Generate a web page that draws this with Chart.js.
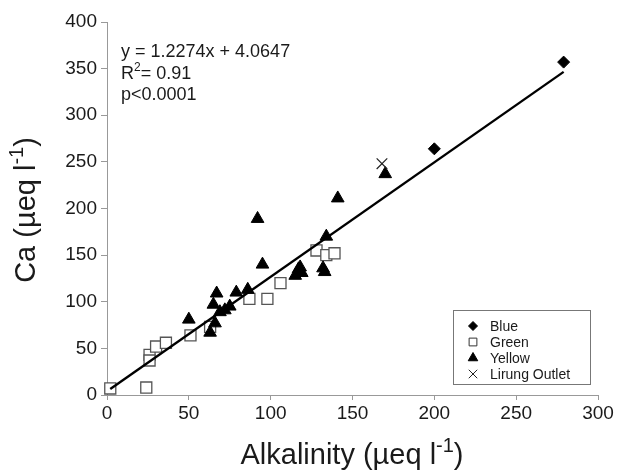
<!DOCTYPE html>
<html>
<head>
<meta charset="utf-8">
<script src="https://cdn.jsdelivr.net/npm/chart.js@4/dist/chart.umd.min.js"></script>
<style>
html,body{margin:0;padding:0;background:#fff;}
#wrap{width:617px;height:472px;position:relative;}
</style>
</head>
<body>
<div id="wrap"><canvas id="c" width="617" height="472"></canvas></div>
<script>
// ---- data ----
const blueX = [200, 279];
const blueY = [264, 357];

const greenX = [2, 24, 26, 26, 30, 36, 51, 63, 87, 98, 106, 128, 134, 139];
const greenY = [7, 8, 43, 37, 52, 56, 64, 73, 103, 103, 120, 155, 150, 152];

const yellowX = [50, 63, 65, 66, 67, 69, 72, 75, 79, 86, 92, 95, 115, 117, 119, 118, 132, 133, 134, 141, 170];
const yellowY = [81, 67, 97, 77, 109, 89, 91, 95, 110, 113, 189, 140, 128, 135, 131, 137, 136, 132, 170, 211, 237];

const outletX = [168];
const outletY = [248];

const fitSlope = 1.2274;
const fitIntercept = 4.0647;
const fitRange = [2, 279];

const xTicks = [0, 50, 100, 150, 200, 250, 300];
const yTicks = [0, 50, 100, 150, 200, 250, 300, 350, 400];

const seriesNames = ['Blue', 'Green', 'Yellow', 'Lirung Outlet'];
// -------------------------------------------------

function pts(xs, ys) { return xs.map((x, i) => ({ x: x, y: ys[i] })); }

const FONT = '"Liberation Sans", Arial, sans-serif';

const datasets = [
  { label: seriesNames[0], data: pts(blueX, blueY), pointStyle: 'rectRot', pointRadius: 6,
    backgroundColor: '#000', borderColor: '#000', borderWidth: 1, showLine: false, clip: false, order: 2 },
  { label: seriesNames[1], data: pts(greenX, greenY), pointStyle: 'rect', pointRadius: 7.8,
    backgroundColor: '#fff', borderColor: '#555', borderWidth: 1.3, showLine: false, clip: false, order: 4 },
  { label: seriesNames[2], data: pts(yellowX, yellowY), pointStyle: 'triangle', pointRadius: 7.3,
    backgroundColor: '#000', borderColor: '#000', borderWidth: 1, showLine: false, clip: false, order: 3 },
  { label: seriesNames[3], data: pts(outletX, outletY), pointStyle: 'crossRot', pointRadius: 7.5,
    backgroundColor: '#222', borderColor: '#222', borderWidth: 1.2, showLine: false, clip: false, order: 2 },
  { label: 'fit', type: 'line',
    data: fitRange.map(x => ({ x: x, y: fitSlope * x + fitIntercept })),
    borderColor: '#000', borderWidth: 2.4, pointRadius: 0, showLine: true, fill: false, clip: false, order: 1 }
];

function drawSupText(ctx, parts, x, y, size, align) {
  const supSize = Math.round(size * 0.68);
  let total = 0;
  const widths = parts.map(p => {
    ctx.font = (p[1] ? supSize : size) + 'px ' + FONT;
    const w = ctx.measureText(p[0]).width;
    total += w;
    return w;
  });
  let cx = align === 'center' ? x - total / 2 : x;
  parts.forEach((p, i) => {
    ctx.font = (p[1] ? supSize : size) + 'px ' + FONT;
    ctx.fillText(p[0], cx, p[1] ? y - size * 0.42 : y);
    cx += widths[i];
  });
}

const overlay = {
  id: 'overlay',
  afterDraw(chart) {
    const ctx = chart.ctx;
    ctx.save();
    ctx.fillStyle = '#1a1a1a';
    ctx.textBaseline = 'alphabetic';
    ctx.textAlign = 'left';
    const ca = chart.chartArea;

    // x axis title
    drawSupText(ctx, [['Alkalinity (\u00b5eq l', false], ['-1', true], [')', false]],
      352, 464, 29, 'center');

    // y axis title
    ctx.save();
    ctx.translate(35, 210);
    ctx.rotate(-Math.PI / 2);
    drawSupText(ctx, [['Ca (\u00b5eq l', false], ['-1', true], [')', false]], 0, 0, 29, 'center');
    ctx.restore();

    // regression annotation
    drawSupText(ctx, [['y = ' + fitSlope + 'x + ' + fitIntercept, false]], 121, 57, 18, 'left');
    drawSupText(ctx, [['R', false], ['2', true], ['= 0.91', false]], 121, 79, 18, 'left');
    drawSupText(ctx, [['p<0.0001', false]], 121, 100, 18, 'left');

    // legend box
    const lx = 453, ly = 310, lw = 137, lh = 74;
    ctx.strokeStyle = '#777';
    ctx.lineWidth = 1;
    ctx.strokeRect(lx + 0.5, ly + 0.5, lw, lh);
    const legendStyles = [
      { style: 'rectRot', r: 4.5, fill: '#000', stroke: '#000', bw: 1 },
      { style: 'rect', r: 5.5, fill: '#fff', stroke: '#333', bw: 1 },
      { style: 'triangle', r: 5.5, fill: '#000', stroke: '#000', bw: 1 },
      { style: 'crossRot', r: 6, fill: '#222', stroke: '#222', bw: 1 }
    ];
    ctx.font = '14px ' + FONT;
    ctx.textBaseline = 'middle';
    seriesNames.forEach((name, i) => {
      const yy = 326 + i * 16;
      const s = legendStyles[i];
      ctx.fillStyle = s.fill;
      ctx.strokeStyle = s.stroke;
      ctx.lineWidth = s.bw;
      Chart.helpers.drawPoint(ctx, { pointStyle: s.style, radius: s.r, rotation: 0, borderWidth: s.bw }, 473, yy);
      ctx.fillStyle = '#1a1a1a';
      ctx.fillText(name, 490, yy + 1);
    });
    ctx.restore();
  }
};

new Chart(document.getElementById('c'), {
  type: 'scatter',
  data: { datasets: datasets },
  plugins: [overlay],
  options: {
    responsive: false,
    animation: false,
    devicePixelRatio: 1,
    layout: { padding: { left: 0, top: 22, right: 19, bottom: 0 } },
    plugins: { legend: { display: false }, tooltip: { enabled: false } },
    scales: {
      x: {
        type: 'linear', min: 0, max: 300,
        afterBuildTicks: s => { s.ticks = xTicks.map(v => ({ value: v })); },
        afterFit: s => { s.height = 77; },
        grid: { drawOnChartArea: false, drawTicks: true, tickLength: 5, color: '#999' },
        border: { color: '#999', width: 1 },
        ticks: { color: '#1a1a1a', font: { family: FONT, size: 19 }, padding: 2, maxRotation: 0 }
      },
      y: {
        type: 'linear', min: 0, max: 400,
        afterBuildTicks: s => { s.ticks = yTicks.map(v => ({ value: v })); },
        afterFit: s => { s.width = 107; },
        grid: { drawOnChartArea: false, drawTicks: true, tickLength: 6, color: '#999' },
        border: { color: '#999', width: 1 },
        ticks: { color: '#1a1a1a', font: { family: FONT, size: 19 }, padding: 4 }
      }
    }
  }
});
</script>
</body>
</html>
